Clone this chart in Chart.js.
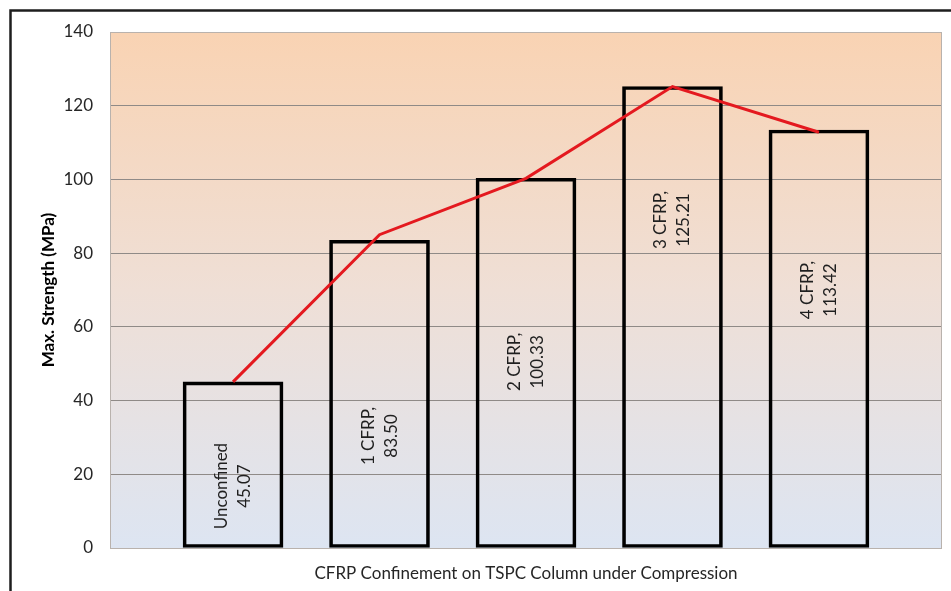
<!DOCTYPE html>
<html>
<head>
<meta charset="utf-8">
<script src="https://cdn.jsdelivr.net/npm/chart.js@4.4.1/dist/chart.umd.min.js"></script>
<style>
  html, body { margin: 0; padding: 0; background: #ffffff; }
  #wrap { width: 951px; height: 591px; }
</style>
</head>
<body>
<div id="wrap"><canvas id="c" width="951" height="591"></canvas></div>
<script>
// Specimen groups and their peak compressive strength (MPa)
const categories = ['Unconfined', '1 CFRP,', '2 CFRP,', '3 CFRP,', '4 CFRP,'];
const strengthValues = [45.07, 83.50, 100.33, 125.21, 113.42];
// Trend line through the peaks
const trendValues = [45.07, 85.0, 100.3, 125.2, 112.8];
// Where each vertical label sits inside its bar (in MPa along the y axis)
const labelLevels = [16.8, 30.4, 50.5, 89.0, 70.0];
const yTicks = [0, 20, 40, 60, 80, 100, 120, 140];

const FONT = 'Lato, "Open Sans", "Liberation Sans", sans-serif';

// Frame, plot-area gradient and border
const backdrop = {
  id: 'backdrop',
  beforeDraw(chart) {
    const { ctx, chartArea: a } = chart;
    ctx.save();
    ctx.fillStyle = '#ffffff';
    ctx.fillRect(0, 0, chart.width, chart.height);
    const g = ctx.createLinearGradient(0, a.top, 0, a.bottom);
    g.addColorStop(0, '#f9d3b3');
    g.addColorStop(0.5, '#efdfd6');
    g.addColorStop(1, '#dde5f2');
    ctx.fillStyle = g;
    ctx.fillRect(a.left, a.top, a.right - a.left, a.bottom - a.top);
    ctx.restore();
  },
  afterDraw(chart) {
    const { ctx, chartArea: a } = chart;
    ctx.save();
    ctx.strokeStyle = '#b9b2ad';
    ctx.lineWidth = 1;
    ctx.strokeRect(a.left + 0.5, a.top + 0.5, a.right - a.left - 1, a.bottom - a.top);
    // outer frame
    ctx.strokeStyle = '#1e1e1e';
    ctx.lineWidth = 2.5;
    ctx.beginPath();
    ctx.moveTo(10.5, chart.height + 2);
    ctx.lineTo(10.5, 10.5);
    ctx.lineTo(chart.width + 2, 10.5);
    ctx.stroke();
    ctx.restore();
  }
};

// Rotated two-line value labels inside the bars
const barLabels = {
  id: 'barLabels',
  afterDatasetsDraw(chart) {
    const { ctx } = chart;
    const meta = chart.getDatasetMeta(1);
    const y = chart.scales.y;
    ctx.save();
    ctx.font = '17px ' + FONT;
    ctx.fillStyle = '#1f1f1f';
    ctx.textAlign = 'center';
    ctx.textBaseline = 'middle';
    meta.data.forEach((bar, i) => {
      const lines = [categories[i], strengthValues[i].toFixed(2)];
      ctx.save();
      ctx.translate(bar.x, y.getPixelForValue(labelLevels[i]));
      ctx.rotate(-Math.PI / 2);
      ctx.fillText(lines[0], 0, -11.5);
      ctx.fillText(lines[1], 0, 11.5);
      ctx.restore();
    });
    ctx.restore();
  }
};

new Chart(document.getElementById('c'), {
  data: {
    datasets: [
      {
        type: 'line',
        label: 'Trend',
        data: trendValues.map((v, i) => ({ x: i, y: v })),
        borderColor: '#e4191f',
        borderWidth: 3,
        pointRadius: 0,
        tension: 0,
        fill: false,
        order: 0
      },
      {
        type: 'bar',
        label: 'Max. Strength',
        data: strengthValues.map((v, i) => ({ x: i, y: v })),
        backgroundColor: 'rgba(0,0,0,0)',
        borderColor: '#000000',
        borderWidth: 3,
        borderSkipped: false,
        barThickness: 100,
        order: 1
      }
    ]
  },
  options: {
    responsive: false,
    animation: false,
    layout: { padding: { top: 32, right: 9, left: 0, bottom: 0 } },
    plugins: {
      legend: { display: false },
      tooltip: { enabled: false }
    },
    scales: {
      x: {
        type: 'linear',
        offset: false,
        min: -0.84,
        max: 4.84,
        ticks: { display: false },
        grid: { display: false, offset: false },
        border: { display: false },
        title: {
          display: true,
          text: 'CFRP Confinement on TSPC Column under Compression',
          color: '#262626',
          font: { family: FONT, size: 17 },
          padding: { top: 0, bottom: 7 }
        },
        afterFit(s) { s.height = 43; }
      },
      y: {
        min: 0,
        max: 140,
        afterBuildTicks(s) { s.ticks = yTicks.map(v => ({ value: v })); },
        ticks: {
          color: '#262626',
          font: { family: FONT, size: 17 },
          padding: 17
        },
        grid: { color: '#8f8a87', lineWidth: 1, drawTicks: false },
        border: { display: false },
        title: {
          display: true,
          text: 'Max. Strength (MPa)',
          color: '#000000',
          font: { family: FONT, size: 17, weight: 'bold' },
          padding: { top: 38, bottom: 0 }
        },
        afterFit(s) { s.width = 110; }
      }
    }
  },
  plugins: [backdrop, barLabels]
});
</script>
</body>
</html>
